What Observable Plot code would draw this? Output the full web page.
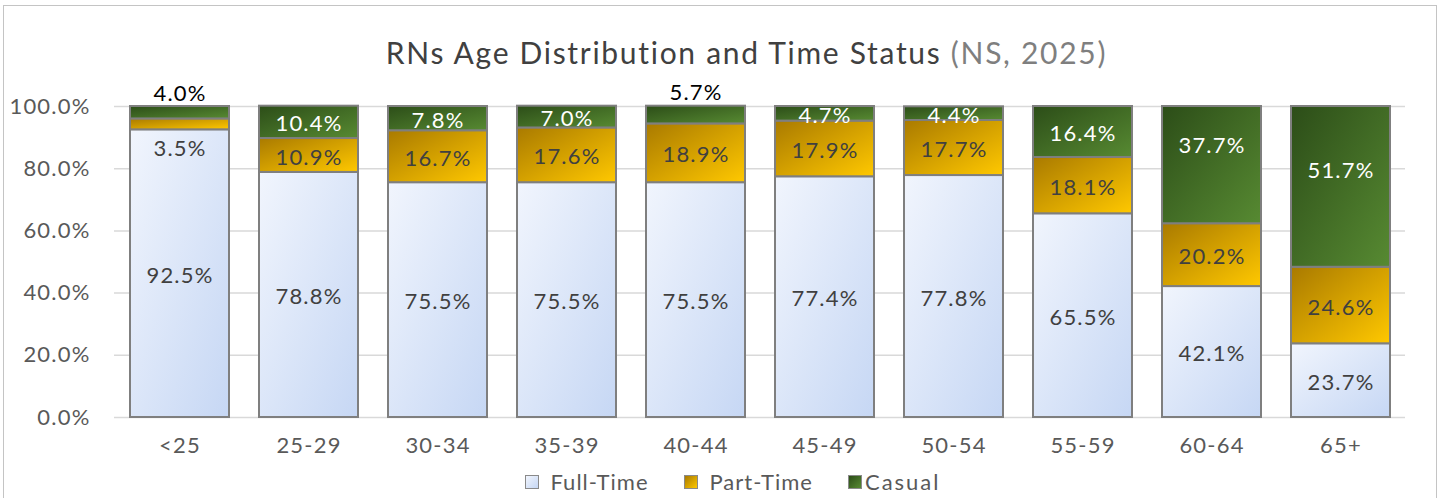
<!DOCTYPE html>
<html><head><meta charset="utf-8">
<script src="https://cdn.jsdelivr.net/npm/d3@7"></script>
<script src="https://cdn.jsdelivr.net/npm/@observablehq/plot@0.6"></script>
<style>
body{margin:0;background:#fff;font-family:Lato, "Noto Sans", sans-serif;width:1445px;height:498px;overflow:hidden;position:relative;}
#frame{position:absolute;left:3px;top:5px;width:1434px;height:540px;border:1.5px solid #c4c4c4;box-sizing:border-box;}
#title{position:absolute;top:34px;left:24px;width:1445px;text-align:center;font-size:30px;letter-spacing:1.7px;color:#404040;}
#title span{color:#7f7f7f;}
#chart{position:absolute;left:0;top:75px;}
#chart svg text{letter-spacing:1.2px;}
#legend{position:absolute;top:468px;left:10px;width:1445px;display:flex;justify-content:center;font-size:22px;letter-spacing:1px;color:#595959;}
#legend .it{display:flex;align-items:center;}
#legend .sw{width:12px;height:12px;border:1.5px solid #8a8a8a;margin-right:12px;}
#legend .it + .it{margin-left:35px;}
#legend .it.c .sw{margin-right:3px;}
#legend .it.c{letter-spacing:2px;}
</style>
</head><body>
<div id="frame"></div>
<div id="title">RNs Age Distribution and Time Status <span>(NS, 2025)</span></div>
<div id="chart"></div>
<div id="legend"></div>
<script>
const categories = ["<25","25-29","30-34","35-39","40-44","45-49","50-54","55-59","60-64","65+"];
const series = ["Full-Time","Part-Time","Casual"];
const fullTime = [92.5,78.8,75.5,75.5,75.5,77.4,77.8,65.5,42.1,23.7];
const partTime = [3.5,10.9,16.7,17.6,18.9,17.9,17.7,18.1,20.2,24.6];
const casual = [4.0,10.4,7.8,7.0,5.7,4.7,4.4,16.4,37.7,51.7];
const yTicks = [0,20,40,60,80,100];

const values = [fullTime, partTime, casual];
const rows = [];
categories.forEach((c, i) => {
  let acc = 0;
  series.forEach((s, k) => {
    const v = values[k][i];
    rows.push({cat: c, series: s, value: v, y1: acc, y2: acc + v});
    acc += v;
  });
});

// label placement exceptions (as in the original chart)
const placement = {"<25|Casual": "above", "40-44|Casual": "above", "<25|Part-Time": "below", "60-64|Casual": "high", "65+|Casual": "high2"};
rows.forEach(r => {
  const p = placement[r.cat + "|" + r.series];
  r.place = p || "center";
  r.ly = p === "above" ? r.y2 : p === "below" ? r.y1 : (r.y1 + r.y2) / 2;
});

const grads = {"Full-Time": ["gFT", "#f1f5fd", "#c6d7f4"], "Part-Time": ["gPT", "#a97a00", "#ffc800"], "Casual": ["gCA", "#2c4d18", "#578a32"]};
const labelColor = r => r.place === "above" ? "#000000" : r.series === "Casual" ? "#ffffff" : "#404040";

const marks = [
  Plot.ruleY(yTicks, {stroke: "#d9d9d9", strokeWidth: 1.5})
];
series.forEach(s => {
  marks.push(Plot.barY(rows.filter(r => r.series === s), {x: "cat", y1: "y1", y2: "y2", fill: `url(#${grads[s][0]})`, stroke: "#7f7f7f", strokeWidth: 2}));
});
const lbl = (place, dy) => Plot.text(rows.filter(r => r.place === place), {
  x: "cat", y: "ly", text: r => r.value.toFixed(1) + "%", fill: labelColor, fontSize: 22, dy
});
marks.push(lbl("center", 2), lbl("above", -13), lbl("below", 19), lbl("high", -19), lbl("high2", -16));

const svg = Plot.plot({
  width: 1445, height: 385,
  marginLeft: 114, marginRight: 40, marginTop: 31, marginBottom: 43,
  style: {fontFamily: "Lato, 'Noto Sans', sans-serif", fontSize: "22px", color: "#595959", background: "transparent"},
  x: {domain: categories, paddingInner: 0.234, paddingOuter: 0.112, label: null, tickSize: 0, tickPadding: 20},
  y: {domain: [0, 100], ticks: yTicks, tickFormat: d => d.toFixed(1) + "%", label: null, tickSize: 0, tickPadding: 24},
  marks
});
const defs = d3.select(svg).insert("defs", ":first-child");
series.forEach(s => {
  const [id, c0, c1] = grads[s];
  const g = defs.append("linearGradient").attr("id", id).attr("x1", 0).attr("y1", 0).attr("x2", 1).attr("y2", 1);
  g.append("stop").attr("offset", "0%").attr("stop-color", c0);
  g.append("stop").attr("offset", "100%").attr("stop-color", c1);
});
document.getElementById("chart").appendChild(svg);

const leg = d3.select("#legend");
series.forEach((s, k) => {
  const it = leg.append("div").attr("class", k === 2 ? "it c" : "it");
  it.append("div").attr("class", "sw").style("background", `linear-gradient(135deg, ${grads[s][1]}, ${grads[s][2]})`);
  it.append("div").text(s);
});
</script>
</body></html>
